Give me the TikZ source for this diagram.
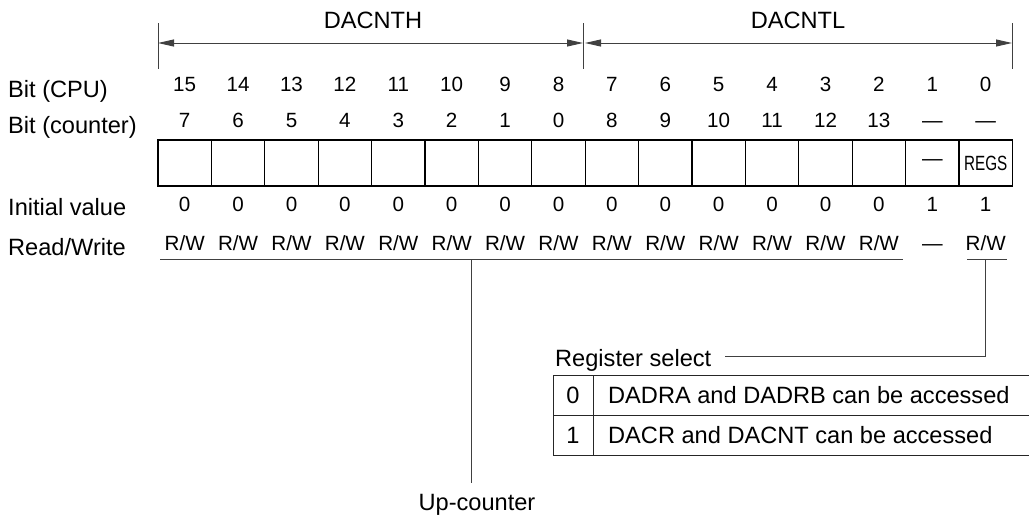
\documentclass[tikz,border=0pt]{standalone}
\usepackage{fontspec}
\usepackage{graphicx}
\setmainfont{Liberation Sans}
\usetikzlibrary{arrows.meta}
\begin{document}
\begin{tikzpicture}[x=1pt,y=-1pt,
  lbl/.style={font=\fontsize{23.6}{28}\selectfont, inner sep=0pt, anchor=base west},
  ttl/.style={font=\fontsize{23.6}{28}\selectfont, inner sep=0pt, anchor=base},
  num/.style={font=\fontsize{20.6}{24}\selectfont, inner sep=0pt, anchor=base},
  cell/.style={draw=black, line width=1.1pt, minimum width=53.4pt, minimum height=46pt,
    inner sep=0pt, outer sep=0pt, anchor=north west, font=\fontsize{20.6}{24}\selectfont},
  tcell/.style={draw=black!85, line width=1pt, minimum height=40pt, inner sep=0pt,
    outer sep=0pt, anchor=north west},
  ln/.style={line width=0.9pt, draw=black!75},
  dim/.style={ln, {Triangle[length=16pt,width=7pt]}-{Triangle[length=16pt,width=7pt]}},
]
\useasboundingbox (0,0) rectangle (1029,517);

% dimension lines
\coordinate (tLt) at (158,23);  \coordinate (tLb) at (158,69);
\coordinate (tMt) at (583,23);  \coordinate (tMb) at (583,69);
\coordinate (tRt) at (1012,23); \coordinate (tRb) at (1012,69);
\coordinate (aL) at (158,43); \coordinate (aM) at (583,43);
\coordinate (aM2) at (585,43); \coordinate (aR) at (1012,43);
\draw[ln] (tLt) -- (tLb);
\draw[ln] (tMt) -- (tMb);
\draw[ln] (tRt) -- (tRb);
\draw[dim] (aL) -- (aM);
\draw[dim] (aM2) -- (aR);
\node[ttl] (hi) at (373,28) {DACNTH};
\node[ttl] (lo) at (798,28) {DACNTL};

% row labels
\node[lbl] (lcpu) at (8,97) {Bit (CPU)};
\node[lbl] (lcnt) at (8,133.5) {Bit (counter)};
\node[lbl] (linit) at (8,215) {Initial value};
\node[lbl] (lrw) at (8,255) {Read/Write};

% bit numbers
\foreach \b [count=\i from 0] in {15,14,13,12,11,10,9,8,7,6,5,4,3,2,1,0}
  \node[num] (cpu\i) at ({158+53.4*(\i+0.5)},91) {\b};
\foreach \b [count=\i from 0] in {7,6,5,4,3,2,1,0,8,9,10,11,12,13,---,---}
  \node[num] (cnt\i) at ({158+53.4*(\i+0.5)},127) {\b};

% register cells
\foreach \i in {0,...,13}
  \node[cell] (c\i) at ({158+53.4*\i},140) {};
\node[cell] (c14) at ({158+53.4*14},140) {---};
\node[cell] (c15) at ({158+53.4*15},140) {\scalebox{0.74}[1]{REGS}};

% initial values
\foreach \b [count=\i from 0] in {0,0,0,0,0,0,0,0,0,0,0,0,0,0,1,1}
  \node[num] (iv\i) at ({158+53.4*(\i+0.5)},211) {\b};
% read/write
\foreach \i in {0,...,13}
  \node[num] (rw\i) at ({158+53.4*(\i+0.5)},250) {R/W};
\node[num] (rw14) at ({158+53.4*14.5},250) {---};
\node[num] (rw15) at ({158+53.4*15.5},250) {R/W};

% underlines
\coordinate (u1) at (160,259); \coordinate (u2) at (903,259);
\coordinate (r1) at (967,259); \coordinate (r2) at (1007,259);
\draw[ln] (u1) -- (u2);
\draw[ln] (r1) -- (r2);

% up-counter connector
\coordinate (uv) at (471,259); \coordinate (uvend) at (471,483);
\draw[ln] (uv) -- (uvend);
\node[ttl] (upc) at (477,510) {Up-counter};

% register select connector
\coordinate (rv) at ({158+53.4*15.5},259);
\coordinate (rsend) at (725,356);
\draw[ln] (rv) |- (rsend);
\node[lbl] (regsel) at (555,366) {Register select};

% table
\node[tcell, minimum width=40pt] (k0) at (553,375) {};
\node[tcell, minimum width=460pt] (d0) at (593,375) {};
\node[tcell, minimum width=40pt] (k1) at (553,415) {};
\node[tcell, minimum width=460pt] (d1) at (593,415) {};
\node[ttl] (k0t) at (573,403.5) {0};
\node[ttl] (k1t) at (573,443.5) {1};
\node[lbl] (d0t) at (608,403.5) {DADRA and DADRB can be accessed};
\node[lbl] (d1t) at (608,443.5) {DACR and DACNT can be accessed};
\end{tikzpicture}
\end{document}
